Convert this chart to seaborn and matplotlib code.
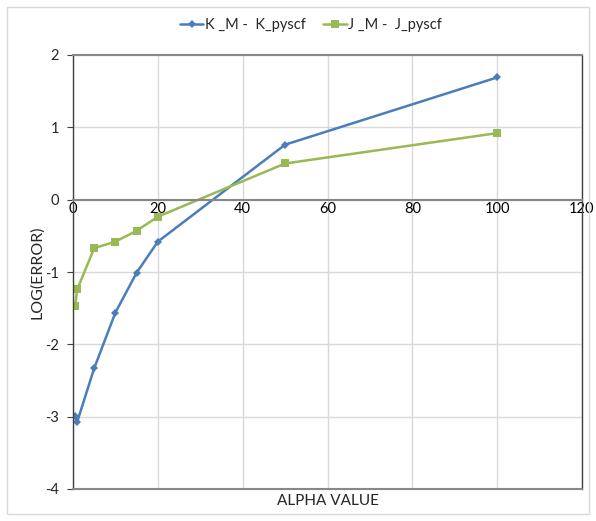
import matplotlib
matplotlib.use("Agg")
import matplotlib.pyplot as plt
from matplotlib.patches import Rectangle
import seaborn as sns
import pandas as pd

alpha = [0.5, 1, 5, 10, 15, 20, 50, 100]
k_err = [-2.99, -3.07, -2.33, -1.56, -1.01, -0.58, 0.76, 1.69]
j_err = [-1.47, -1.24, -0.67, -0.58, -0.43, -0.235, 0.50, 0.92]
k_name = "K _M -  K_pyscf"
j_name = "J _M -  J_pyscf"
x_ticks = [0, 20, 40, 60, 80, 100, 120]
y_ticks = [-4, -3, -2, -1, 0, 1, 2]

df = pd.concat([
    pd.DataFrame({"alpha": alpha, "err": k_err, "series": k_name}),
    pd.DataFrame({"alpha": alpha, "err": j_err, "series": j_name}),
])

sns.set_style("white")
plt.rcParams["font.family"] = ["Lato", "DejaVu Sans"]

fig = plt.figure(figsize=(5.96, 5.21), dpi=100)
ax = fig.add_axes([73 / 596, 1 - 489 / 521, (582 - 73) / 596, (489 - 55) / 521])

blue = "#4A7EBB"
green = "#98B954"
sns.lineplot(data=df[df.series == k_name], x="alpha", y="err", ax=ax, color=blue,
             marker="D", markersize=4.5, markeredgewidth=0, linewidth=1.8,
             label=k_name, sort=False)
sns.lineplot(data=df[df.series == j_name], x="alpha", y="err", ax=ax, color=green,
             marker="s", markersize=6, markeredgewidth=0, linewidth=1.8,
             label=j_name, sort=False)

ax.set_xlim(0, 120)
ax.set_ylim(-4, 2)
ax.set_xticks(x_ticks)
ax.set_yticks(y_ticks)
ax.grid(True, color="#D9D9D9", linewidth=1)
ax.set_axisbelow(True)

# x axis crosses at zero; frame drawn around the plot area
ax.spines["bottom"].set_position(("data", 0))
ax.spines["bottom"].set_color("#878787")
ax.spines["bottom"].set_linewidth(1.5)
ax.spines["left"].set_color("#404040")
ax.spines["left"].set_linewidth(1.0)
ax.spines["right"].set_color("#404040")
ax.spines["right"].set_linewidth(1.0)
ax.spines["top"].set_color("#878787")
ax.spines["top"].set_linewidth(1.5)
ax.axhline(-4, color="#878787", linewidth=1.5, clip_on=False, zorder=5)

ax.tick_params(axis="x", length=0, pad=2, labelsize=10.5, colors="black")
ax.tick_params(axis="y", length=4, width=0.8, color="#404040", pad=6,
               labelsize=10.5, labelleft=True, left=True, direction="out")
ax.set_xticklabels([str(t) for t in x_ticks])
ax.set_yticklabels([str(t) for t in y_ticks])

ax.set_xlabel("")
ax.set_ylabel("LOG(ERROR)", fontsize=11.5, labelpad=1)
fig.text((73 + 582) / 2 / 596, 1 - 501 / 521, "ALPHA VALUE", ha="center",
         va="center", fontsize=11)

leg = ax.legend(loc="center", bbox_to_anchor=(311 / 596, 1 - 25 / 521),
                bbox_transform=fig.transFigure, ncol=2, frameon=False,
                fontsize=10.5, handlelength=1.6, handletextpad=0.1,
                columnspacing=1.2)

fig.patches.append(Rectangle((7 / 596, 7 / 521), 582 / 596, 507 / 521,
                             transform=fig.transFigure, fill=False,
                             edgecolor="#D9D9D9", linewidth=1))

fig.savefig("out.png", dpi=100)
